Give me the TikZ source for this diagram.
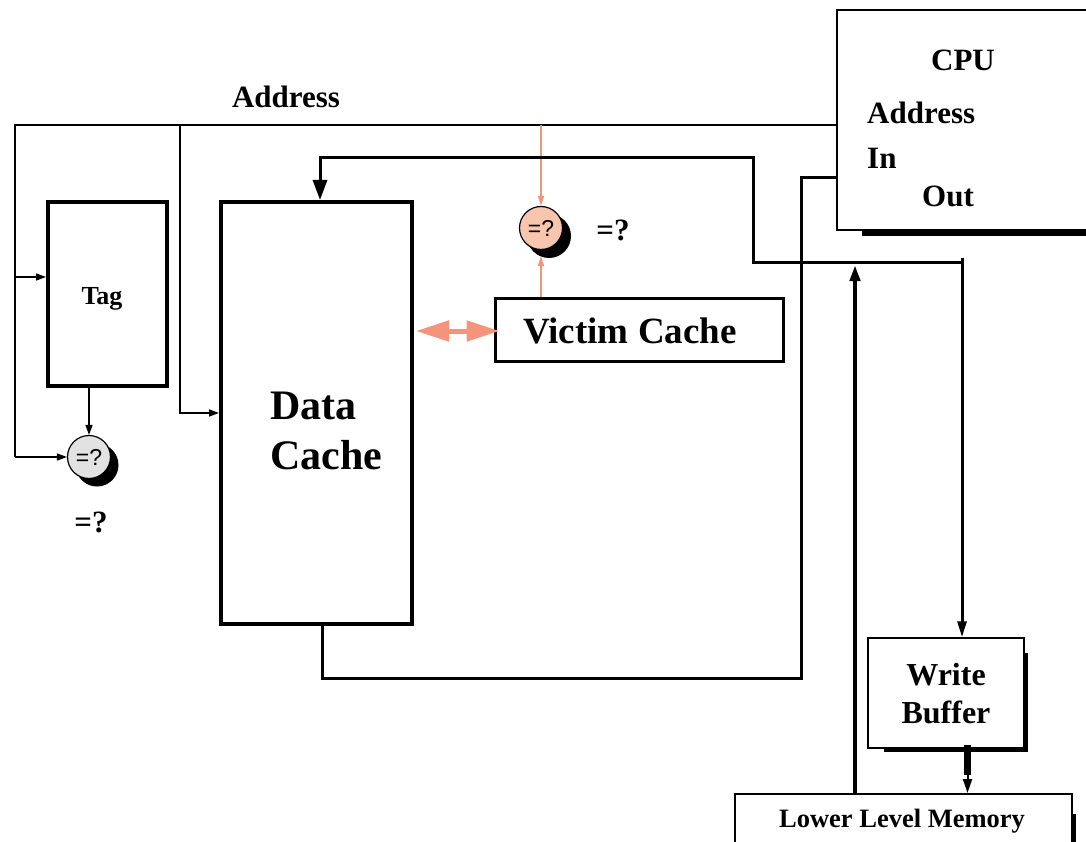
\documentclass[tikz,border=0pt]{standalone}
\usepackage{fontspec}
\setmainfont{Liberation Serif}
\setsansfont{Liberation Sans}
\usetikzlibrary{arrows.meta,calc}
\definecolor{salmon}{HTML}{F4957B}
\definecolor{peach}{HTML}{F8C6AE}
\definecolor{lgray}{HTML}{E2E2E2}
\tikzset{
  box/.style={draw, line width=#1, rectangle, inner sep=0pt, font=\bfseries},
  thinw/.style={line width=1.3pt},
  dataw/.style={line width=3pt},
  sarrow/.style={-{Triangle[length=10pt,width=7pt]}},
  oarrow/.style={draw=salmon, line width=1.3pt, -{Triangle[length=10pt,width=6pt]}, color=salmon},
  cmp/.style={circle, draw, line width=1.2pt, minimum size=43pt, inner sep=0pt, font=\sffamily\fontsize{23}{23}\selectfont},
  lbl/.style={font=\bfseries\fontsize{31}{36}\selectfont, inner sep=0pt}
}
\begin{document}
\begin{tikzpicture}[x=1pt, y=-1pt]
\useasboundingbox (0,0) rectangle (1086,842);

% CPU
\draw[line width=2pt] (1100,10) -- (837,10) -- (837,230) -- (1100,230);
\draw[line width=5pt] (862,233.5) -- (1100,233.5);
\coordinate (cpuW) at (837,120);
\node[lbl] (cpulbl) at (963,60) {CPU};
\node[lbl, anchor=west] (cpuaddr) at (867,113) {Address};
\node[lbl, anchor=west] (cpuin) at (867,158) {In};
\node[lbl, anchor=west] (cpuout) at (922,196) {Out};

% Boxes
\node[box=4pt, minimum width=119pt, minimum height=184pt] (tag) at (107.5,294) {};
\node[lbl, font=\bfseries\fontsize{26}{30}\selectfont] (taglbl) at (102,299) {Tag};

\node[box=4pt, minimum width=191pt, minimum height=422pt] (dcache) at (316.5,413) {};
\node[anchor=west, align=left, inner sep=0pt, font=\bfseries\fontsize{42}{50}\selectfont] (dclbl) at (270,431) {Data\\Cache};

\node[box=3pt, minimum width=288pt, minimum height=63pt] (victim) at (639,329.5) {};
\node[lbl, font=\bfseries\fontsize{37}{40}\selectfont] (viclbl) at (630,331) {Victim Cache};

% write buffer with shadow
\draw[line width=4pt] (1026,653) -- (1026,750) -- (884,750);
\node[box=1.5pt, fill=white, minimum width=156pt, minimum height=110pt] (wbuf) at (946,693) {};
\node[align=center, inner sep=0pt, font=\bfseries\fontsize{32}{38}\selectfont] (wblbl) at (946,694) {Write\\Buffer};

% lower level memory with shadow
\draw[line width=4pt] (1074,814) -- (1074,850);
\node[box=2pt, fill=white, minimum width=337pt, minimum height=56pt] (llm) at (903.5,822) {};
\node[lbl, font=\bfseries\fontsize{26.5}{30}\selectfont] (llmlbl) at (902,821) {Lower Level Memory};

% comparators
\fill (97,465) circle (21.5pt);
\node[cmp, fill=lgray] (cmp1) at (89,457) {=?};
\fill (549,236) circle (22pt);
\node[cmp, fill=peach] (cmp2) at (541,228) {=?};
\coordinate (cmp2sh) at (541,256);

\node[lbl] (eq1) at (91,522) {=?};
\node[lbl] (eq2) at (613,230) {=?};
\node[lbl] (addrlbl) at (286,97) {Address};

% address bus
\draw[thinw] (cpuW |- 0,125) -- (15,125) -- (15,457);
\draw[thinw, sarrow] (15,457) -- (cmp1.west);
\draw[thinw, sarrow] (15,277) -- (tag.west |- 0,277);
\draw[thinw, sarrow] (180,125) -- (180,413) -- (dcache.west |- 0,413);
\draw[thinw, sarrow] (cmp1.north |- tag.south) -- (cmp1.north);
\draw[oarrow] (cmp2.north |- 0,125) -- (cmp2.north);
\draw[oarrow] (cmp2.south |- victim.north) -- (cmp2sh);

% data paths
\draw[dataw] (dcache.south -| 322,0) -- (322,678) -- (801,678) -- (801,178) -- (cpuW |- 0,178);
\draw[dataw, -{Triangle[length=20pt,width=14pt]}] (962,262) -- (753,262) -- (753,158) -- (320,158) -- (dcache.north -| 320,0);
\draw[dataw, -{Triangle[length=16pt,width=9pt]}] (962,258) -- (wbuf.north -| 962,0);
\draw[line width=4pt, -{Triangle[length=16pt,width=10pt]}] (llm.north -| 855,0) -- (855,265);
\draw[line width=7pt] (967.5,745) -- (967.5,775);
\draw[line width=2pt, -{Triangle[length=14pt,width=9pt]}] (967.5,772) -- (llm.north -| 967.5,0);

% victim swap
\draw[salmon, line width=5pt, {Triangle[length=33pt,width=20pt]}-{Triangle[length=33pt,width=20pt]}, shorten <=2pt, shorten >=-6pt] (dcache.east |- 0,331) -- (victim.west |- 0,331);
\end{tikzpicture}
\end{document}
